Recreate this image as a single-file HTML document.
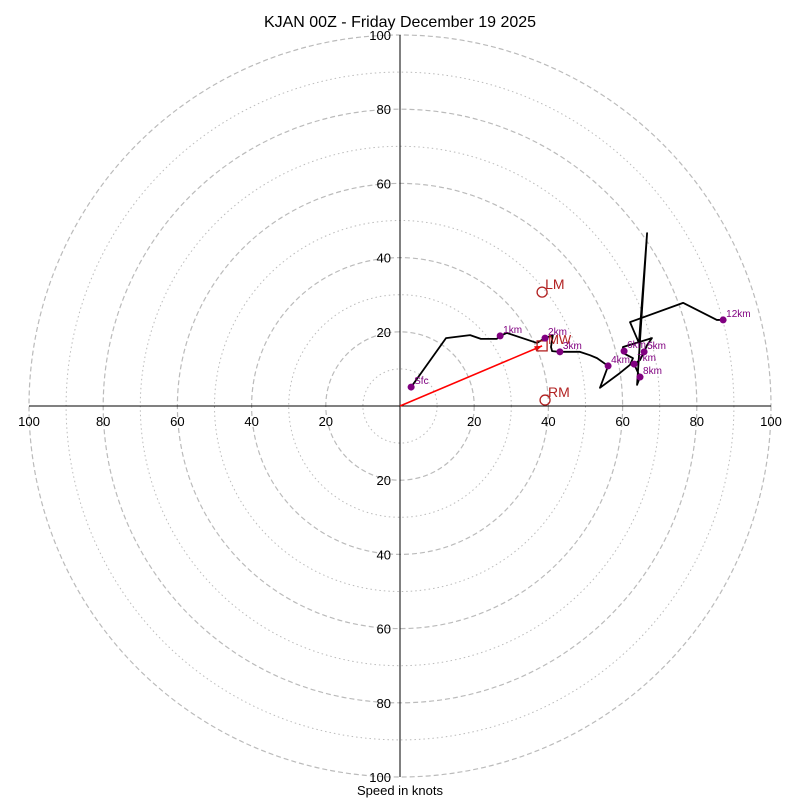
<!DOCTYPE html>
<html><head><meta charset="utf-8"><style>
body{margin:0;background:#fff}
svg text{font-family:"Liberation Sans","DejaVu Sans",sans-serif}
</style></head><body>
<svg id="c" width="800" height="800" viewBox="0 0 800 800" xmlns="http://www.w3.org/2000/svg">
<text x="400" y="27" font-size="16" text-anchor="middle">KJAN 00Z - Friday December 19 2025</text>
<text x="400" y="795" font-size="13" text-anchor="middle">Speed in knots</text>
<g id="rings"></g><g id="axes"></g><g id="series"></g>
</svg>
<script>
const ringLevels=[10,20,30,40,50,60,70,80,90,100];
const tickLabels=[20,40,60,80,100];
const pathU=[3.0,12.4,18.9,21.8,26.1,27.0,28.8,36.9,39.1,41.2,40.7,41.0,43.1,48.5,51.2,53.1,56.1,53.9,59.3,62.0,62.8,60.1,60.1,67.9,66.6,65.8,64.7,63.1,64.7,63.9,66.6,64.4,62.0,76.3,85.4,87.1];
const pathV=[5.1,18.3,19.1,18.1,18.1,18.9,19.7,17.0,18.3,19.1,15.9,14.8,14.6,14.6,13.7,12.9,10.8,4.9,8.9,11.1,12.9,14.3,15.9,18.3,16.4,14.6,12.4,11.3,7.8,5.7,46.6,17.0,22.6,27.8,23.2,23.2];
const markerLabels=["Sfc","1km","2km","3km","4km","5km","6km","7km","8km","12km"];
const markerU=[3.0,27.0,39.1,43.1,56.1,65.8,60.4,63.1,64.7,87.1];
const markerV=[5.1,18.9,18.3,14.6,10.8,14.6,14.8,11.3,7.8,23.2];
const stormNames=["LM","RM"];
const stormU=[38.3,39.1];
const stormV=[30.7,1.6];
const meanWindU=38.3, meanWindV=16.2;

const cx=400,cy=406,k=3.71;
const X=u=>cx+u*k, Y=v=>cy-v*k;
const NS="http://www.w3.org/2000/svg";
function mk(tag,attrs,parent,txt){const e=document.createElementNS(NS,tag);for(const a in attrs)e.setAttribute(a,attrs[a]);if(txt!==undefined)e.textContent=txt;parent.appendChild(e);return e;}
const rings=document.getElementById('rings'),axes=document.getElementById('axes'),ser=document.getElementById('series');
ringLevels.forEach(r=>{
  const major=r%20===0;
  const c=mk('circle',{cx:cx,cy:cy,r:r*k,fill:'none',stroke:'#bbb','stroke-width':major?1.2:1,'stroke-dasharray':major?'5,3':'1.5,3'},rings);
  
  
});
let l=mk('line',{x1:X(-100),y1:cy,x2:X(100),y2:cy,stroke:'#000','stroke-width':1},axes);

l=mk('line',{x1:cx,y1:Y(100),x2:cx,y2:Y(-100),stroke:'#000','stroke-width':1},axes);

tickLabels.forEach(t=>{
  [-1,1].forEach(s=>{
    let e=mk('text',{x:X(s*t),y:cy+20,'font-size':13,'text-anchor':'middle'},axes,t);
    
    e=mk('text',{x:cx-9,y:Y(s*t)+5,'font-size':13,'text-anchor':'end'},axes,t);
    
  });
});
let pts=pathU.map((u,i)=>X(u)+','+Y(pathV[i])).join(' ');
let p=mk('polyline',{points:pts,fill:'none',stroke:'#000','stroke-width':1.8,'stroke-linejoin':'round'},ser);

let a=mk('line',{x1:cx,y1:cy,x2:X(meanWindU),y2:Y(meanWindV),stroke:'red','stroke-width':1.6},ser);

const ang=Math.atan2(Y(meanWindV)-cy,X(meanWindU)-cx),hx=X(meanWindU),hy=Y(meanWindV);
a=mk('polygon',{points:`${hx},${hy} ${hx-8*Math.cos(ang-0.35)},${hy-8*Math.sin(ang-0.35)} ${hx-8*Math.cos(ang+0.35)},${hy-8*Math.sin(ang+0.35)}`,fill:'red'},ser);

let mw=mk('rect',{x:X(meanWindU)-5,y:Y(meanWindV)-5,width:10,height:10,fill:'none',stroke:'#b22222','stroke-width':1.3},ser);

let mt=mk('text',{x:X(meanWindU)+6,y:Y(meanWindV)-2,'font-size':13,fill:'#b22222'},ser,'MW');

stormNames.forEach((n,i)=>{
  let c=mk('circle',{cx:X(stormU[i]),cy:Y(stormV[i]),r:5,fill:'none',stroke:'#b22222','stroke-width':1.3},ser);
  
  let t=mk('text',{x:X(stormU[i])+3,y:Y(stormV[i])-3,'font-size':14,fill:'#b22222'},ser,n);
  
});
markerLabels.forEach((n,i)=>{
  let c=mk('circle',{cx:X(markerU[i]),cy:Y(markerV[i]),r:3.5,fill:'purple'},ser);
  
  let t=mk('text',{x:X(markerU[i])+3,y:Y(markerV[i])-3,'font-size':10,fill:'purple'},ser,n);
  
});
</script>
</body></html>
